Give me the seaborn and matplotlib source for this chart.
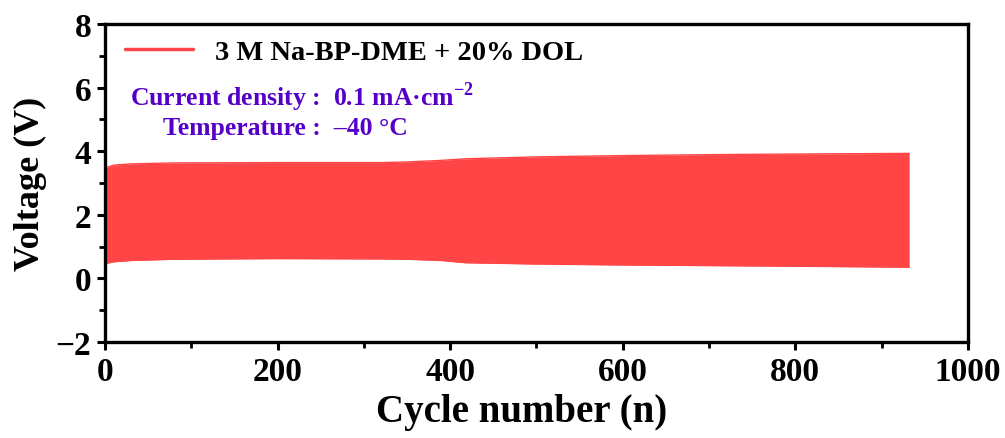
import numpy as np
import pandas as pd
import matplotlib
matplotlib.use('Agg')
import matplotlib.pyplot as plt
import seaborn as sns

# envelope of the galvanostatic cycling band
cycle = [0, 3, 10, 30, 80, 200, 320, 350, 390, 418, 500, 600, 700, 800, 932]
v_upper = [3.47, 3.50, 3.56, 3.60, 3.63, 3.64, 3.64, 3.66, 3.71, 3.76, 3.82, 3.86, 3.89, 3.91, 3.93]
v_lower = [0.42, 0.48, 0.52, 0.56, 0.60, 0.62, 0.61, 0.60, 0.56, 0.49, 0.45, 0.42, 0.40, 0.38, 0.35]

series_label = '3 M Na-BP-DME + 20% DOL'
note_current = r'Current density :  0.1 mA·cm$^{\mathbf{-2}}$'
note_temp = 'Temperature :  –40 °C'

x_ticks = [0, 200, 400, 600, 800, 1000]
y_ticks = [-2, 0, 2, 4, 6, 8]

df = pd.DataFrame({'cycle': cycle, 'upper': v_upper, 'lower': v_lower})

sns.set_style('ticks', {'axes.edgecolor': 'black', 'xtick.color': 'black',
                        'ytick.color': 'black', 'text.color': 'black',
                        'axes.labelcolor': 'black'})
plt.rcParams['font.family'] = ['Liberation Serif', 'DejaVu Serif']
plt.rcParams['font.weight'] = 'bold'
plt.rcParams['mathtext.fontset'] = 'custom'
plt.rcParams['mathtext.rm'] = 'Liberation Serif:bold'
plt.rcParams['mathtext.bf'] = 'Liberation Serif:bold'

red = '#ff4545'
purple = '#5500c8'

fig = plt.figure(figsize=(10.05, 4.39), dpi=100)
ax = fig.add_axes([0.1045, 0.219, 0.8585, 0.724])

ax.fill_between(df['cycle'], df['lower'], df['upper'], color=red, linewidth=0)
sns.lineplot(data=df, x='cycle', y='upper', color=red, linewidth=1, ax=ax, label=series_label)
sns.lineplot(data=df, x='cycle', y='lower', color=red, linewidth=1, ax=ax)

ax.set_xlim(0, 1000)
ax.set_ylim(-2, 8)
ax.set_xticks(x_ticks)
ax.set_yticks(y_ticks)
ax.set_xticklabels([str(t) for t in x_ticks])
ax.set_yticklabels([str(t).replace('-', '\u2212') for t in y_ticks])
ax.set_xticks(np.arange(100, 1000, 200), minor=True)
ax.set_yticks(np.arange(-1, 8, 2), minor=True)

ax.tick_params(which='major', direction='out', length=6, width=2.2, labelsize=24, pad=4,
               colors='black')
ax.tick_params(which='minor', direction='out', length=4, width=2.0, colors='black')
for lab in ax.get_xticklabels() + ax.get_yticklabels():
    lab.set_fontweight('bold')

for s in ax.spines.values():
    s.set_linewidth(2.4)
    s.set_color('black')
    s.set_visible(True)

ax.set_xlabel('Cycle number (n)', fontsize=28, fontweight='bold', color='black')
ax.xaxis.set_label_coords(0.483, -0.16)
ax.set_ylabel('Voltage (V)', fontsize=26, fontweight='bold', labelpad=6, color='black')

leg = ax.legend(loc='center left', bbox_to_anchor=(0.0, 0.912), frameon=False,
                prop={'size': 20.5, 'weight': 'bold'}, handlelength=2.4,
                handletextpad=0.75, borderaxespad=0.4, borderpad=0.3)
for h in leg.get_lines():
    h.set_linewidth(2.5)
for t in leg.get_texts():
    t.set_color('black')

ax.text(0.029, 0.774, note_current, transform=ax.transAxes, color=purple,
        fontsize=18.5, fontweight='bold', va='center', ha='left')
ax.text(0.067, 0.676, note_temp, transform=ax.transAxes, color=purple,
        fontsize=18.5, fontweight='bold', va='center', ha='left')

fig.savefig('out.png', dpi=100)
